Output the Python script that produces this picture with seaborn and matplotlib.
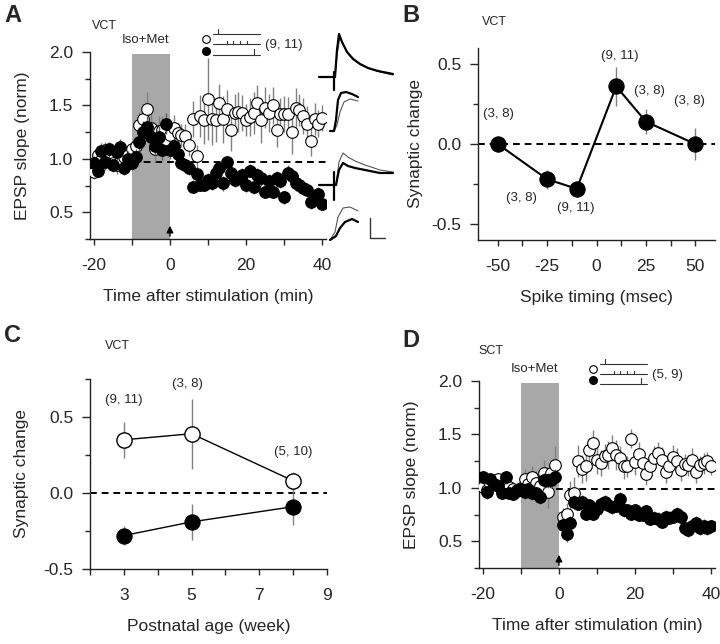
import numpy as np
import matplotlib
matplotlib.use("Agg")
import matplotlib.pyplot as plt
from matplotlib.ticker import MultipleLocator
import seaborn as sns

# ---------------- data ----------------
# panel A (VCT time course), one sample per minute
t_a = np.arange(-20, 41)
a_open = [0.88, 1.04, 0.99, 1.08, 1.02, 0.96, 0.94, 0.97, 1.02, 1.05, 1.09, 1.12, 1.32, 1.37, 1.47, 1.29, 1.09, 1.26, 1.27, 1.18, 1.22,
          1.29, 1.24, 1.22, 1.21, 1.13, 1.37, 1.03, 1.40, 1.36, 1.56, 1.37, 1.36, 1.52, 1.37, 1.47, 1.27, 1.43, 1.44, 1.43, 1.36,
          1.39, 1.43, 1.52, 1.36, 1.48, 1.43, 1.50, 1.27, 1.42, 1.42, 1.42, 1.25, 1.48, 1.46, 1.40, 1.33, 1.17, 1.37, 1.33, 1.38]
a_open_err = [0.07, 0.08, 0.07, 0.08, 0.06, 0.07, 0.08, 0.07, 0.06, 0.07, 0.06, 0.08, 0.12, 0.14, 0.16, 0.13, 0.12, 0.14, 0.13, 0.12, 0.11,
              0.12, 0.10, 0.11, 0.12, 0.10, 0.17, 0.10, 0.20, 0.22, 0.38, 0.24, 0.20, 0.18, 0.22, 0.17, 0.20, 0.18, 0.19, 0.17, 0.15,
              0.18, 0.20, 0.17, 0.21, 0.19, 0.18, 0.17, 0.16, 0.15, 0.17, 0.16, 0.20, 0.18, 0.15, 0.17, 0.16, 0.14, 0.15, 0.13, 0.12]
a_fill = [0.96, 0.89, 1.07, 0.97, 1.09, 0.94, 1.06, 1.11, 0.91, 1.00, 0.96, 1.02, 1.16, 1.25, 1.30, 1.20, 1.12, 1.20, 1.08, 1.33, 1.08,
          1.12, 1.05, 0.96, 0.94, 0.91, 0.74, 0.86, 0.76, 0.76, 0.80, 0.77, 0.87, 0.91, 0.77, 0.97, 0.87, 0.80, 0.82, 0.85, 0.76,
          0.89, 0.74, 0.85, 0.82, 0.69, 0.79, 0.69, 0.82, 0.79, 0.64, 0.87, 0.84, 0.77, 0.76, 0.73, 0.71, 0.60, 0.65, 0.67, 0.58]
a_fill_err = [0.07, 0.06, 0.08, 0.07, 0.07, 0.06, 0.07, 0.08, 0.06, 0.07, 0.06, 0.07, 0.09, 0.10, 0.10, 0.09, 0.08, 0.11, 0.09, 0.10, 0.08,
              0.07, 0.06, 0.06, 0.05, 0.06, 0.06, 0.07, 0.06, 0.06, 0.07, 0.06, 0.07, 0.06, 0.07, 0.06, 0.07, 0.06, 0.07, 0.06, 0.07,
              0.06, 0.07, 0.06, 0.07, 0.06, 0.07, 0.06, 0.07, 0.06, 0.06, 0.07, 0.06, 0.07, 0.06, 0.07, 0.06, 0.07, 0.06, 0.07, 0.06]

# panel B (spike timing)
b_timing = [-50, -25, -10, 10, 25, 50]
b_change = [0.0, -0.22, -0.28, 0.36, 0.14, 0.0]
b_err = [0.05, 0.06, 0.05, 0.12, 0.08, 0.10]
b_n = ["(3, 8)", "(3, 8)", "(9, 11)", "(9, 11)", "(3, 8)", "(3, 8)"]
b_lab_x = [-49.5, -38, -10.6, 12, 26.8, 47]
b_lab_y = [0.19, -0.34, -0.40, 0.55, 0.33, 0.27]

# panel C (postnatal age)
c_age = [3, 5, 8]
c_open = [0.35, 0.39, 0.08]
c_open_err = [0.12, 0.23, 0.06]
c_fill = [-0.28, -0.19, -0.09]
c_fill_err = [0.06, 0.12, 0.12]
c_n = ["(9, 11)", "(3, 8)", "(5, 10)"]
c_lab_x = [3.0, 4.87, 8.0]
c_lab_y = [0.61, 0.72, 0.27]

# panel D (SCT time course), no sample at t = 0
t_d = np.r_[np.arange(-20, 0), np.arange(1, 41)]
d_open = [1.01, 0.98, 1.04, 1.06, 1.08, 1.03, 1.01, 1.01, 0.99, 0.98, 1.00, 1.08, 1.04, 1.10, 1.05, 1.02, 1.14, 0.96, 1.14, 1.21,
          0.73, 0.76, 0.93, 0.95, 1.25, 1.18, 1.20, 1.35, 1.42, 1.26, 1.23, 1.30, 1.31, 1.37, 1.31, 1.28, 1.20, 1.20, 1.46, 1.24,
          1.32, 1.23, 1.13, 1.20, 1.28, 1.33, 1.26, 1.15, 1.20, 1.29, 1.25, 1.17, 1.22, 1.21, 1.26, 1.15, 1.21, 1.23, 1.25, 1.20]
d_open_err = [0.05, 0.05, 0.06, 0.05, 0.06, 0.05, 0.05, 0.06, 0.05, 0.05, 0.08, 0.10, 0.12, 0.10, 0.11, 0.13, 0.12, 0.15, 0.12, 0.18,
              0.08, 0.10, 0.13, 0.15, 0.15, 0.13, 0.14, 0.12, 0.12, 0.13, 0.12, 0.11, 0.13, 0.12, 0.14, 0.11, 0.12, 0.10, 0.09, 0.12,
              0.11, 0.10, 0.10, 0.12, 0.11, 0.10, 0.12, 0.10, 0.10, 0.11, 0.12, 0.11, 0.10, 0.10, 0.11, 0.10, 0.09, 0.10, 0.09, 0.08]
d_fill = [1.10, 0.96, 1.08, 1.04, 1.02, 0.95, 1.10, 0.95, 0.94, 0.97, 0.99, 0.96, 0.99, 0.95, 0.95, 0.91, 1.07, 1.07, 1.07, 1.10,
          0.65, 0.57, 0.67, 0.87, 0.85, 0.87, 0.76, 0.84, 0.76, 0.80, 0.85, 0.87, 0.84, 0.82, 0.83, 0.90, 0.79, 0.79, 0.76, 0.79,
          0.75, 0.75, 0.78, 0.71, 0.72, 0.71, 0.68, 0.73, 0.72, 0.73, 0.76, 0.73, 0.62, 0.61, 0.64, 0.67, 0.62, 0.64, 0.62, 0.64]
d_fill_err = [0.06, 0.06, 0.05, 0.05, 0.06, 0.05, 0.06, 0.05, 0.05, 0.05, 0.06, 0.06, 0.06, 0.06, 0.06, 0.06, 0.07, 0.07, 0.07, 0.08,
              0.07, 0.08, 0.07, 0.06, 0.06, 0.06, 0.06, 0.06, 0.06, 0.06, 0.06, 0.06, 0.06, 0.06, 0.06, 0.06, 0.06, 0.06, 0.06, 0.06,
              0.06, 0.06, 0.06, 0.06, 0.06, 0.06, 0.06, 0.06, 0.06, 0.06, 0.06, 0.06, 0.06, 0.07, 0.06, 0.07, 0.06, 0.07, 0.06, 0.06]

# example EPSP traces beside panel A (figure pixels)
tr1_thick = [(335, 77), (337, 50), (339, 34), (342, 42), (347, 52), (353, 59), (360, 64), (368, 68), (378, 71), (393, 74)]
tr1_thin = [(335, 77), (337, 55), (340, 37), (343, 44), (348, 53), (355, 60), (362, 65), (370, 69), (380, 72), (393, 75)]
tr2_thick = [(330, 131), (334, 131), (336, 120), (338, 100), (341, 93), (346, 92), (352, 94), (358, 97)]
tr2_thin = [(334, 131), (337, 125), (340, 112), (344, 102), (350, 99), (358, 101)]
tr3_thick = [(336, 185), (339, 170), (343, 163), (348, 166), (355, 168), (365, 170), (380, 173), (393, 173)]
tr3_thin = [(336, 185), (339, 162), (343, 153), (348, 157), (355, 161), (365, 165), (380, 170), (393, 172)]
tr4_thick = [(330, 240), (336, 236), (340, 228), (345, 222), (352, 219), (358, 222)]
tr4_thin = [(330, 240), (335, 232), (338, 217), (343, 208), (350, 207), (358, 211)]

# ---------------- style ----------------
sns.set_style("ticks")
plt.rcParams["font.family"] = ["Liberation Sans", "DejaVu Sans"]
plt.rcParams["axes.unicode_minus"] = False

W, H = 720, 644
fig = plt.figure(figsize=(7.2, 6.44), dpi=100)


def rect(l, t, r, b):
    return [l / W, 1 - b / H, (r - l) / W, (b - t) / H]


def style_axis(ax, xmaj, xmin, ymaj, ymin):
    sns.despine(ax=ax)
    for s in ("left", "bottom"):
        ax.spines[s].set_linewidth(1)
        ax.spines[s].set_color("#222222")
    ax.xaxis.set_major_locator(MultipleLocator(xmaj))
    ax.xaxis.set_minor_locator(MultipleLocator(xmin))
    ax.yaxis.set_major_locator(MultipleLocator(ymaj))
    ax.yaxis.set_minor_locator(MultipleLocator(ymin))
    ax.tick_params(axis="y", which="major", length=6, width=1, labelsize=12.5, pad=6)
    ax.tick_params(axis="y", which="minor", length=3.5, width=1)
    ax.tick_params(axis="x", which="both", length=4.5, width=1, labelsize=12.5, pad=9)
    ax.yaxis.set_major_formatter(plt.FuncFormatter(lambda v, p: f"{v:.1f}"))


def time_course(ax, t, op, op_e, fl, fl_e, dash_y):
    ax.fill_between([-10, 0], 0.25, 1.98, color="#a8a8a8", lw=0, zorder=1)
    ax.plot([-10, 41], [dash_y, dash_y], ls=(0, (3.5, 2.5)), color="k", lw=1.4, zorder=1.5)
    ax.errorbar(t, op, yerr=op_e, fmt="none", ecolor="#808080", elinewidth=1, zorder=2)
    sns.scatterplot(x=t, y=op, ax=ax, s=70, color="white", edgecolor="black", linewidth=0.8, zorder=3, legend=False)
    ax.errorbar(t, fl, yerr=fl_e, fmt="none", ecolor="#606060", elinewidth=1, zorder=4)
    sns.scatterplot(x=t, y=fl, ax=ax, s=70, color="black", edgecolor="black", linewidth=0.8, zorder=5, legend=False)
    ax.annotate("", xy=(0, 0.40), xytext=(0, 0.25),
                arrowprops=dict(arrowstyle="-|>", color="k", lw=1, mutation_scale=10), zorder=6)
    ax.set_xlim(-21, 41)
    ax.set_ylim(0.25, 2.0)
    style_axis(ax, 20, 10, 0.5, 0.25)
    ax.set_xlabel("Time after stimulation (min)", fontsize=12.5, labelpad=12)
    ax.set_ylabel("EPSP slope (norm)", fontsize=12.5, labelpad=14)
    ax.text(-6.5, 2.11, "Iso+Met", ha="center", va="center", fontsize=9.5)


# ---------------- panel A ----------------
axA = fig.add_axes(rect(90, 52, 326, 239))
time_course(axA, t_a, a_open, a_open_err, a_fill, a_fill_err, 0.97)

# ---------------- panel B ----------------
axB = fig.add_axes(rect(478, 48, 715, 240))
axB.axhline(0, ls=(0, (3.5, 2.5)), color="k", lw=1.4, zorder=1)
axB.errorbar(b_timing, b_change, yerr=b_err, fmt="none", ecolor="#808080", elinewidth=1, zorder=2)
sns.lineplot(x=b_timing, y=b_change, ax=axB, color="black", lw=1.5, marker="o", markersize=11,
             markerfacecolor="black", markeredgecolor="black", zorder=3)
for x, y, s in zip(b_lab_x, b_lab_y, b_n):
    axB.text(x, y, s, ha="center", va="center", fontsize=9.5)
axB.set_xlim(-60, 60)
axB.set_ylim(-0.6, 0.6)
style_axis(axB, 25, 12.5, 0.5, 0.25)
axB.set_xlabel("Spike timing (msec)", fontsize=12.5, labelpad=12)
axB.set_ylabel("Synaptic change", fontsize=12.5, labelpad=6)

# ---------------- panel C ----------------
axC = fig.add_axes(rect(90, 379, 327, 569))
axC.axhline(0, ls=(0, (3.5, 2.5)), color="k", lw=1.4, zorder=1)
axC.errorbar(c_age, c_open, yerr=c_open_err, fmt="none", ecolor="#808080", elinewidth=1, zorder=2)
axC.errorbar(c_age, c_fill, yerr=c_fill_err, fmt="none", ecolor="#808080", elinewidth=1, zorder=2)
sns.lineplot(x=c_age, y=c_open, ax=axC, color="black", lw=1, marker="o", markersize=11,
             markerfacecolor="white", markeredgecolor="black", markeredgewidth=1, zorder=3)
sns.lineplot(x=c_age, y=c_fill, ax=axC, color="black", lw=1, marker="o", markersize=11,
             markerfacecolor="black", markeredgecolor="black", zorder=3)
for x, y, s in zip(c_lab_x, c_lab_y, c_n):
    axC.text(x, y, s, ha="center", va="center", fontsize=9.5)
axC.set_xlim(2, 9)
axC.set_ylim(-0.5, 0.75)
style_axis(axC, 2, 1, 0.5, 0.25)
axC.set_xticks([3, 5, 7, 9])
axC.set_xlabel("Postnatal age (week)", fontsize=12.5, labelpad=12)
axC.set_ylabel("Synaptic change", fontsize=12.5, labelpad=10)

# ---------------- panel D ----------------
axD = fig.add_axes(rect(479, 381, 715, 568))
time_course(axD, t_d, d_open, d_open_err, d_fill, d_fill_err, 0.99)

# ---------------- overlay: letters, protocol glyphs, traces ----------------
ov = fig.add_axes([0, 0, 1, 1], zorder=10)
ov.set_xlim(0, W)
ov.set_ylim(H, 0)
ov.axis("off")

for x, y, s in [(4, 15, "A"), (402, 15, "B"), (4, 335, "C"), (402, 340, "D")]:
    ov.text(x, y, s, fontsize=17, fontweight="bold", ha="left", va="center")
for x, y, s in [(92, 26, "VCT"), (482, 22, "VCT"), (105, 346, "VCT"), (478, 351, "SCT")]:
    ov.text(x, y, s, fontsize=9, ha="left", va="center")


def protocol(x0, y0, dy, label):
    # white / black dots with the pairing schematics
    ov.plot([x0], [y0], "o", ms=5.5, mfc="white", mec="black", mew=0.8)
    ov.plot([x0], [y0 + dy], "o", ms=5.5, mfc="black", mec="black")
    l, r = x0 + 7, x0 + 54
    ov.plot([l, r], [y0 - 5, y0 - 5], color="#333333", lw=0.8)
    ov.plot([x0 + 12, x0 + 12], [y0 - 5, y0 - 10], color="#333333", lw=0.8)
    ov.plot([l, r], [y0 + 5, y0 + 5], color="#333333", lw=0.8)
    for dx in (21, 27, 34, 41):
        ov.plot([x0 + dx, x0 + dx], [y0 + 5, y0 + 2], color="#333333", lw=0.8)
    ov.plot([l, r], [y0 + dy + 4, y0 + dy + 4], color="#333333", lw=0.8)
    ov.plot([x0 + 48, x0 + 48], [y0 + dy + 4, y0 + dy - 2], color="#333333", lw=0.8)
    ov.text(x0 + 59, y0 + 6, label, fontsize=9.5, ha="left", va="center")


protocol(206, 39, 12, "(9, 11)")
protocol(593, 369, 11, "(5, 9)")

for thick, thin in [(tr1_thick, tr1_thin), (tr2_thick, tr2_thin), (tr3_thick, tr3_thin), (tr4_thick, tr4_thin)]:
    ov.plot(*zip(*thin), color="#555555", lw=0.8)
    ov.plot(*zip(*thick), color="black", lw=1.6)
for y, lo, hi in [(77, 72, 90), (185, 172, 200)]:
    ov.plot([319, 335], [y, y], color="black", lw=1.6)
    ov.plot([334, 334], [lo, hi], color="black", lw=1.6)
ov.plot([370, 370, 385], [218, 238, 238], color="#333333", lw=1)

fig.savefig("out.png", dpi=100)
